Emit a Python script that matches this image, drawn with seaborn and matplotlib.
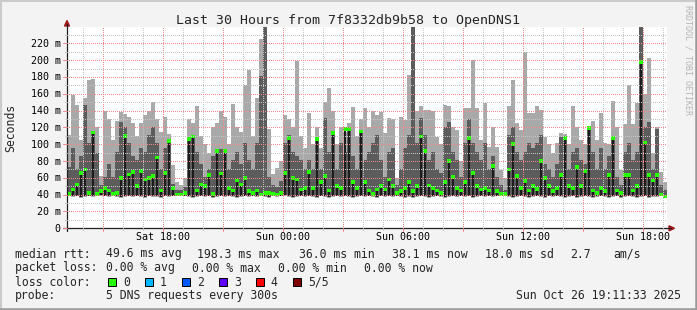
import numpy as np
import pandas as pd
import matplotlib
matplotlib.use('Agg')
import matplotlib.pyplot as plt
import seaborn as sns
from matplotlib.patches import Rectangle, Polygon
from matplotlib.lines import Line2D
from matplotlib.transforms import blended_transform_factory

# ---------------- data (12-minute steps, Sat 13:12 -> Sun 19:12) ----------------
start_min = 792      # Sat 13:12, minutes since Sat 00:00
step_min = 12

lo = [38,37,38,36,37,38,37,38,39,38, 37,38,37,36,37,38,37,38,37,36,
      38,37,37,36,38,37,38,39,38,38, 37,36,37,38,37,38,36,37,38,37,
      38,37,36,37,38,37,38,37,38,37, 36,38,37,38,39,37,36,37,38,37,
      38,37,36,38,37,36,37,38,37,38, 37,36,37,38,37,38,37,36,38,37,
      38,37,38,37,36,37,36,37,38,37, 36,37,38,37,36,37,38,37,38,37,
      38,36,37,38,37,38,37,38,39,38, 37,36,37,38,37,36,37,38,37,36,
      38,37,38,37,36,37,38,36,37,38, 37,36,37,38,37,36,37,38,36,37,
      38,37,36,37,38,36,37,37,38,38]

smoke_max = [111,158,147,105,155,176,178,120,62,140, 130,105,128,138,136,132,125,110,125,135,
             140,150,130,115,132,112,75,55,52,60,   130,125,145,110,100,90,120,125,140,132,
             100,148,120,115,170,188,110,155,225,240, 118,65,72,80,135,130,120,199,110,95,
             137,100,120,95,150,167,140,100,120,115, 125,144,110,130,143,120,140,135,138,113,
             131,130,60,132,129,182,240,140,145,141, 141,140,109,100,147,145,120,117,80,143,
             143,200,143,105,149,97,120,97,69,60,   145,176,125,117,210,137,137,145,141,109,
             100,90,101,113,112,100,145,121,105,100, 121,127,105,137,101,100,151,121,69,124,
             170,124,149,240,160,202,90,120,67,55]

smoke_p4 = [72,95,70,85,146,100,114,89,50,60,   75,60,90,125,120,100,85,80,95,90,
            110,120,100,70,95,104,52,45,44,48,  108,110,90,75,60,70,85,93,93,92,
            70,80,90,75,100,80,70,100,180,240,  60,50,48,55,100,110,90,85,80,70,
            80,70,106,70,130,90,113,70,100,90,  118,85,70,115,80,90,100,110,80,60,
            90,95,50,70,95,110,240,100,130,110, 80,90,70,65,120,125,90,80,60,100,
            129,100,90,80,100,70,85,60,50,45,   110,120,90,80,90,100,95,100,110,75,
            70,60,75,107,107,70,90,95,80,75,    119,90,70,95,70,85,107,60,50,90,
            100,80,90,240,120,125,70,117,50,45]

median = [41,46,52,66,70,42,114,41,44,48,  45,41,42,60,110,64,67,50,68,58,
          60,62,84,45,66,104,48,40,40,42,  106,109,45,52,50,63,41,92,65,92,
          48,45,57,52,60,44,42,45,40,42,   42,41,40,42,66,107,60,58,46,48,
          67,48,106,55,62,45,113,50,48,118, 118,55,48,115,55,45,41,46,50,46,
          58,50,42,44,48,55,44,50,109,92,  51,48,45,42,55,80,61,48,45,55,
          107,66,50,46,48,45,74,44,41,41,  70,100,62,48,56,45,50,47,80,60,
          50,44,48,63,107,50,48,73,50,68,  119,45,42,48,44,63,107,45,42,63,
          63,45,50,198,102,63,57,63,40,38]

ytick_vals = [0, 20, 40, 60, 80, 100, 120, 140, 160, 180, 200, 220]
ytick_labels = ['0', '20 m', '40 m', '60 m', '80 m', '100 m', '120 m', '140 m',
                '160 m', '180 m', '200 m', '220 m']
xtick_vals = [1080, 1440, 1800, 2160, 2520]
xtick_labels = ['Sat 18:00', 'Sun 00:00', 'Sun 06:00', 'Sun 12:00', 'Sun 18:00']

loss_colors = ['#26ff00', '#00b8ff', '#0059ff', '#5e00ff', '#ff0000', '#7e0000']
loss_labels = ['0', '1', '2', '3', '4', '5/5']

title = 'Last 30 Hours from 7f8332db9b58 to OpenDNS1'

# ---------------- figure ----------------
W, H = 697, 310
sns.set_style('white')
plt.rcParams['font.family'] = ['DejaVu Sans Mono']

fig = plt.figure(figsize=(W / 100, H / 100), dpi=100)
fig.patch.set_facecolor('#f3f3f3')


def fx(x):
    return x / W


def fy(y):
    return 1 - y / H


L, R, T, B = 67, 667, 27, 228.3
PXMS = 0.841
ax = fig.add_axes([fx(L), fy(B), (R - L) / W, (B - T) / H])
ax.set_facecolor('white')
for s in ax.spines.values():
    s.set_visible(False)
ax.set_xlim(start_min, start_min + 30 * 60)
ax.set_ylim(0, (B - T) / PXMS)
ax.set_xticks([])
ax.set_yticks([])

n = len(median)
t = start_min + step_min * np.arange(n)
tc = t + step_min / 2
lo_a = np.array(lo, float)
mx = np.array(smoke_max, float)
p4 = np.array(smoke_p4, float)
md = np.array(median, float)

# smoke: outer range light grey, inner range darker grey (narrower => spiky look)
ax.bar(t, mx - lo_a, bottom=lo_a, width=step_min, align='edge',
       color='#a9a9a9', linewidth=0, zorder=2)
ax.bar(tc, p4 - lo_a, bottom=lo_a + 1, width=step_min * 0.8, align='center',
       color='#5c5c5c', linewidth=0, zorder=3)

# median: thin dark stem + green dot (drawn with seaborn)
df = pd.DataFrame({'t': tc, 'med': md, 'lo': lo_a})
ax.bar(df['t'], df['med'] - df['lo'] - 1, bottom=df['lo'] + 1, width=step_min * 0.45,
       color='#1c1c1c', linewidth=0, zorder=4)
sns.scatterplot(data=df, x='t', y='med', marker='s', s=7, color=loss_colors[0],
                edgecolor='none', linewidth=0, ax=ax, zorder=5)
ax.set_xlabel('')
ax.set_ylabel('')

# grid (on top like rrdtool)
GREY = '#c4c4c4'
RED = '#f08a8a'
for m in range(840, start_min + 30 * 60, 60):
    major = (m % 180 == 0)
    ax.axvline(m, color=RED if major else GREY, lw=0.72, linestyle=(0, (1, 2)),
               zorder=6, antialiased=False)
for v in range(10, 240, 10):
    major = (v % 20 == 0)
    ax.axhline(v, color=RED if major else GREY, lw=0.72, linestyle=(0, (1, 2)),
               zorder=6, antialiased=False)

# axes lines and arrows
AX = '#202020'
fig.add_artist(Line2D([fx(L), fx(L)], [fy(231), fy(24)], color=AX, lw=0.9))
fig.add_artist(Line2D([fx(63), fx(671)], [fy(B), fy(B)], color=AX, lw=0.9))
fig.add_artist(Polygon([[fx(64.5), fy(26)], [fx(69.5), fy(26)], [fx(67), fy(20.5)]],
                       closed=True, color='#a01818', transform=fig.transFigure))
fig.add_artist(Polygon([[fx(669), fy(225.8)], [fx(669), fy(230.8)], [fx(674.5), fy(B)]],
                       closed=True, color='#a01818', transform=fig.transFigure))

# tick marks
for v in range(0, 240, 10):
    y = B - v * PXMS
    major = (v % 20 == 0)
    fig.add_artist(Line2D([fx(63 if major else 65), fx(L)], [fy(y), fy(y)],
                          color=RED if major else GREY, lw=0.72))
for m in range(840, start_min + 30 * 60, 60):
    x = L + (m - start_min) / 3
    major = (m % 180 == 0)
    fig.add_artist(Line2D([fx(x), fx(x)], [fy(B), fy(B + (3 if major else 2))],
                          color=RED if major else GREY, lw=0.72))

# tick labels
for v, lab in zip(ytick_vals, ytick_labels):
    y = B - v * PXMS
    fig.text(fx(60.5), fy(y + 3.5), lab, ha='right', va='baseline', size=7.2, color='black')
trans = blended_transform_factory(ax.transData, fig.transFigure)
for m, lab in zip(xtick_vals, xtick_labels):
    ax.text(m, fy(240.5), lab, ha='center', va='baseline', size=7.2, transform=trans,
            color='black', clip_on=False)

# title and side texts
fig.text(fx(348), fy(24), title, ha='center', va='baseline', size=9.55)
fig.text(fx(11), fy(127.5), 'Seconds', rotation=90, ha='center', va='center', size=8.3)
fig.text(fx(688), fy(60), 'RRDTOOL / TOBI OETIKER', rotation=270, ha='center', va='center',
         size=6, color='#b4b4b4')

# legend
LS = 8.3
rows = [257.5, 271.5, 285.5, 299.3]
seg1 = [(15, 'median rtt:'), (106, '49.6 ms avg'), (197, '198.3 ms max'), (299, '36.0 ms min'),
        (392, '38.1 ms now'), (485, '18.0 ms sd'), (570.5, '2.7'), (613, 'am/s')]
for x, s in seg1:
    fig.text(fx(x), fy(rows[0]), s, ha='left', va='baseline', size=LS)
seg2 = [(15, 'packet loss:'), (106, '0.00 % avg'), (192, '0.00 % max'), (278, '0.00 % min'),
        (364, '0.00 % now')]
for x, s in seg2:
    fig.text(fx(x), fy(rows[1]), s, ha='left', va='baseline', size=LS)
fig.text(fx(15), fy(rows[2]), 'loss color:', ha='left', va='baseline', size=LS)
for k, (c, lab) in enumerate(zip(loss_colors, loss_labels)):
    bx = 108.3 + 37 * k
    fig.add_artist(Rectangle((fx(bx), fy(286.3)), 8 / W, 8 / H, facecolor=c,
                             edgecolor='black', lw=0.72, transform=fig.transFigure))
    fig.text(fx(bx + 14.5), fy(rows[2]), lab, ha='left', va='baseline', size=LS)
fig.text(fx(15), fy(rows[3]), 'probe:', ha='left', va='baseline', size=LS)
fig.text(fx(106), fy(rows[3]), '5 DNS requests every 300s', ha='left', va='baseline', size=LS)
fig.text(fx(680.5), fy(rows[3]), 'Sun Oct 26 19:11:33 2025', ha='right', va='baseline', size=LS)

# 3D border
fig.add_artist(Line2D([0, 1], [fy(1), fy(1)], color='#cbcbcb', lw=1.5))
fig.add_artist(Line2D([fx(1), fx(1)], [0, 1], color='#cbcbcb', lw=1.5))
fig.add_artist(Line2D([0, 1], [fy(308.8), fy(308.8)], color='#999999', lw=1.8))
fig.add_artist(Line2D([fx(695.8), fx(695.8)], [0, 1], color='#999999', lw=1.8))

fig.savefig('out.png', dpi=100, facecolor=fig.get_facecolor())
